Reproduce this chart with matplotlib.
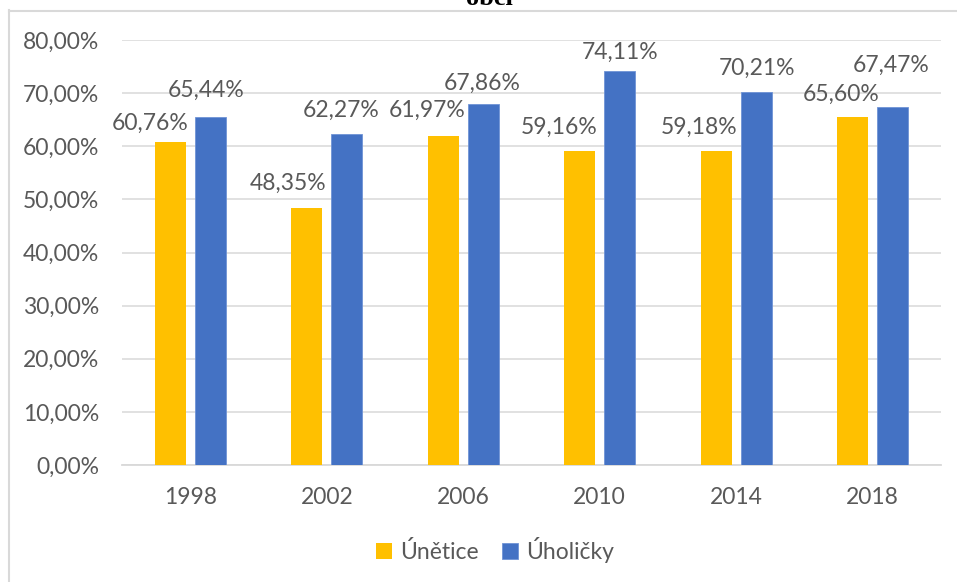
import matplotlib
matplotlib.use("Agg")
import matplotlib.pyplot as plt
from matplotlib.lines import Line2D
from matplotlib.ticker import FuncFormatter, MultipleLocator
import numpy as np

years = ["1998", "2002", "2006", "2010", "2014", "2018"]
unetice = [60.76, 48.35, 61.97, 59.16, 59.18, 65.60]
uholicky = [65.44, 62.27, 67.86, 74.11, 70.21, 67.47]
series_names = ["Únětice", "Úholičky"]
colors = ["#FFC000", "#4472C4"]

# label offsets (pixels) relative to bar centre / bar top: (dx, dy to label centre)
off_u = [(-20, 20.5), (-19, 26), (-16, 26.5), (-21, 24.5), (-17, 25), (-11.5, 23.5)]
off_h = [(-4, 29), (-5.5, 25), (-1, 23), (0, 20.5), (1, 25), (-1.5, 42.5)]

W, H = 957, 582
fig = plt.figure(figsize=(W / 100, H / 100), dpi=100)
ax = fig.add_axes([122 / W, (H - 465) / H, (941 - 122) / W, (465 - 40) / H])

FONT = "Lato"
GRAY = "#595959"
GRID = "#D9D9D9"
FS = 16.5

x = np.arange(len(years))
bw = 0.226
off = 0.146
b1 = ax.bar(x - off, unetice, bw, color=colors[0], label=series_names[0], zorder=3)
b2 = ax.bar(x + off, uholicky, bw, color=colors[1], label=series_names[1], zorder=3,
            edgecolor="#6F93D6", linewidth=0.6)

ax.set_xlim(-0.5, len(years) - 0.5)
ax.set_ylim(0, 80)
ax.yaxis.set_major_locator(MultipleLocator(10))
ax.yaxis.set_major_formatter(FuncFormatter(lambda v, p: f"{v:.2f}%".replace(".", ",")))
ax.set_xticks(x)
ax.set_xticklabels(years)
ax.grid(axis="y", color=GRID, linewidth=1.1, zorder=0)
ax.set_axisbelow(True)
for s in ["top", "right", "left"]:
    ax.spines[s].set_visible(False)
ax.spines["bottom"].set_color(GRID)
ax.spines["bottom"].set_linewidth(1.3)
ax.tick_params(axis="both", length=0, labelsize=FS, labelcolor=GRAY)
ax.tick_params(axis="y", pad=16.5)
ax.tick_params(axis="x", pad=16)
for lab in ax.get_xticklabels() + ax.get_yticklabels():
    lab.set_fontfamily(FONT)

def fmt(v):
    return f"{v:.2f}%".replace(".", ",")

for i in range(len(years)):
    for vals, offs, sgn in ((unetice, off_u, -1), (uholicky, off_h, 1)):
        dx, dy = offs[i]
        ax.annotate(fmt(vals[i]), xy=(x[i] + sgn * off, vals[i]),
                    xytext=(dx, dy - 8), textcoords="offset pixels",
                    ha="center", va="baseline", fontsize=FS, color=GRAY,
                    fontfamily=FONT, zorder=4, annotation_clip=False)

leg = fig.legend(handles=[b1, b2], labels=series_names, loc="center",
                 bbox_to_anchor=(495 / W, 1 - 550 / H), ncol=2, frameon=False,
                 handlelength=0.72, handleheight=0.72, handletextpad=0.35,
                 columnspacing=1.0, prop={"family": FONT, "size": FS})
for t in leg.get_texts():
    t.set_color(GRAY)

# chart area border (partially visible)
fig.add_artist(Line2D([9 / W, 9 / W], [0, 1 - 10 / H], transform=fig.transFigure,
                      color=GRID, linewidth=1.5))
fig.add_artist(Line2D([9 / W, 1], [1 - 10.5 / H, 1 - 10.5 / H], transform=fig.transFigure,
                      color=GRID, linewidth=1.5))

# title, cut off at the top edge as in the reference
fig.text(489 / W, 1 - 5 / H, "obcí", ha="center", va="baseline",
         fontsize=19, fontweight="bold", fontfamily="Liberation Serif", color="black")

fig.savefig("out.png", dpi=100)
